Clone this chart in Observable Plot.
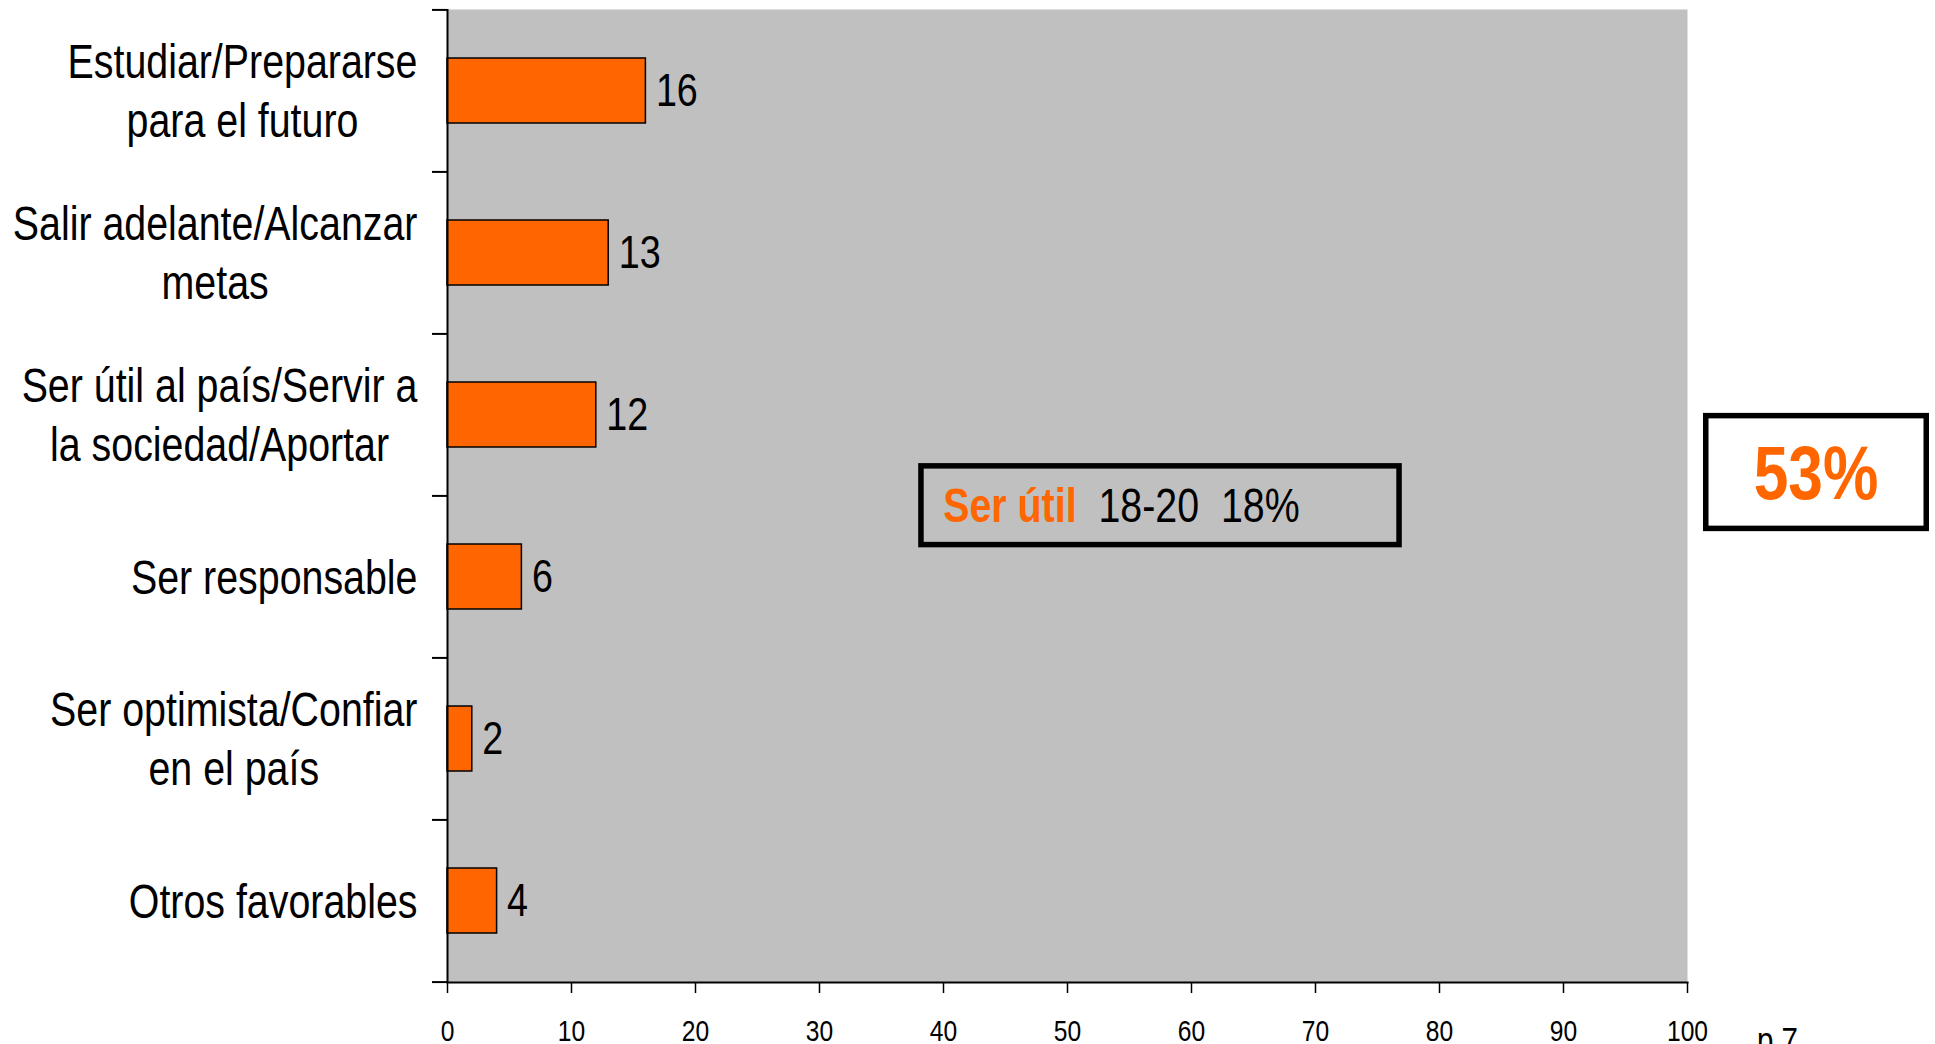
<!DOCTYPE html>
<html><head><meta charset="utf-8">
<script src="https://cdn.jsdelivr.net/npm/d3@7"></script>
<script src="https://cdn.jsdelivr.net/npm/@observablehq/plot@0.6"></script>
<style>
html,body{margin:0;padding:0;background:#fff;overflow:hidden}
#chart{position:relative;width:1935px;height:1044px}
</style></head><body><div id="chart"></div>
<script>
// ---- data ----
const categories = [
  "Estudiar/Prepararse\npara el futuro",
  "Salir adelante/Alcanzar\nmetas",
  "Ser útil al país/Servir a\nla sociedad/Aportar",
  "Ser responsable",
  "Ser optimista/Confiar\nen el país",
  "Otros favorables"
];
const values = [16, 13, 12, 6, 2, 4];
const xTicks = [0, 10, 20, 30, 40, 50, 60, 70, 80, 90, 100];
const noteLabel = "Ser útil";
const noteText = "  18-20  18%";
const noteRange = [38, 77];
const totalLabel = "53%";
const pageLabel = "p 7";

// ---- style ----
const FONT = '"Liberation Sans", Arial, sans-serif';
const NARROW = 0.82; // condensed look of the original (Arial Narrow)
const ORANGE = "#FF6600";
const W = 1935, H = 1044, MT = 9, MB = 62, ML = 447, MR = 248;
const STEP = (H - MT - MB) / categories.length;
const CAT_FS = 48;

const data = categories.map((c, i) => ({cat: c, value: values[i]}));

const ctx = document.createElement("canvas").getContext("2d");
ctx.font = `${CAT_FS}px ${FONT}`;
const blockWidth = s => NARROW * Math.max(...s.split("\n").map(l => ctx.measureText(l).width));

const chart = Plot.plot({
  width: W, height: H,
  marginTop: MT, marginBottom: MB, marginLeft: ML, marginRight: MR,
  style: {fontFamily: FONT, background: "white", color: "black", overflow: "visible"},
  x: {domain: [0, 100], label: null},
  y: {domain: categories, paddingInner: 0.6, paddingOuter: 0.3, label: null},
  marks: [
    Plot.frame({fill: "#C0C0C0", stroke: null}),
    Plot.barX(data, {x: "value", y: "cat", fill: ORANGE, stroke: "black", strokeWidth: 1.5}),
    Plot.text(data, {x: "value", y: "cat", text: d => String(d.value), dx: 10, textAnchor: "start", fontSize: 46, fill: "black"}),
    ...categories.map(c => Plot.text([c], {
      y: d => d, text: d => d, frameAnchor: "left", textAnchor: "middle",
      lineAnchor: "middle", lineHeight: 1.23, fontSize: CAT_FS, fill: "black",
      dx: -(30 + blockWidth(c) / 2), dy: -2
    })),
    Plot.ruleX([0], {stroke: "black", strokeWidth: 2}),
    Plot.frame({anchor: "bottom", stroke: "black", strokeWidth: 2}),
    Plot.axisY({ticks: categories, tickSize: 15, dy: -STEP / 2, tickFormat: () => "", strokeWidth: 2, label: null}),
    Plot.axisY({ticks: [categories[categories.length - 1]], tickSize: 15, dy: STEP / 2, tickFormat: () => "", strokeWidth: 2, label: null}),
    Plot.axisX({ticks: xTicks, tickSize: 11, tickPadding: 26, fontSize: 30, strokeWidth: 1.5, fill: "black", label: null})
  ]
});

document.getElementById("chart").appendChild(chart);

// ---- annotations, placed with the chart's scales ----
const xs = chart.scale("x"), ys = chart.scale("y");
const svg = d3.select(chart);
const g = svg.append("g").attr("font-family", FONT).attr("text-anchor", "start");
const boundary = ys.apply(categories[3]) - (ys.step - ys.bandwidth) / 2;

// box 1
const bx1 = xs.apply(noteRange[0]), bx2 = xs.apply(noteRange[1]);
const bTop = boundary - 0.2 * ys.step, bH = 0.52 * ys.step;
g.append("rect").attr("x", bx1 + 2.75).attr("y", bTop + 2.75)
  .attr("width", bx2 - bx1 - 5.5).attr("height", bH - 5.5)
  .attr("fill", "none").attr("stroke", "black").attr("stroke-width", 5.5);
const t1 = g.append("text").attr("transform", `translate(${bx1 + 25},${bTop + bH / 2})`).attr("dy", "0.35em")
  .attr("text-anchor", "start").attr("font-size", 48).style("white-space", "pre");
t1.append("tspan").attr("font-weight", "bold").attr("fill", ORANGE).text(noteLabel);
t1.append("tspan").attr("fill", "black").text(noteText);

// box 2 (total)
const cx1 = xs.apply(100) + 16, cW = 226;
const cTop = boundary - 0.51 * ys.step, cH = 0.73 * ys.step;
g.append("rect").attr("x", cx1 + 2.75).attr("y", cTop + 2.75)
  .attr("width", cW - 5.5).attr("height", cH - 5.5)
  .attr("fill", "white").attr("stroke", "black").attr("stroke-width", 5.5);
g.append("text").attr("transform", `translate(${cx1 + cW / 2},${cTop + cH / 2})`).attr("dy", "0.36em")
  .attr("text-anchor", "middle").attr("font-size", 76).attr("font-weight", "bold")
  .attr("fill", ORANGE).text(totalLabel);

// page label (cut by the bottom edge, as in the original)
g.append("text").attr("transform", `translate(${xs.apply(100) + 70},${ys.apply(categories[5]) + ys.bandwidth + (ys.step - ys.bandwidth) / 2 + 70})`)
  .attr("text-anchor", "start").attr("font-size", 36).attr("fill", "black").text(pageLabel);

// condense every text horizontally around its anchor, like the original narrow face
svg.selectAll("text").each(function () {
  const t = this.getAttribute("transform") || "";
  this.setAttribute("transform", `${t} scale(${NARROW},1)`.trim());
});
</script>
</body></html>
